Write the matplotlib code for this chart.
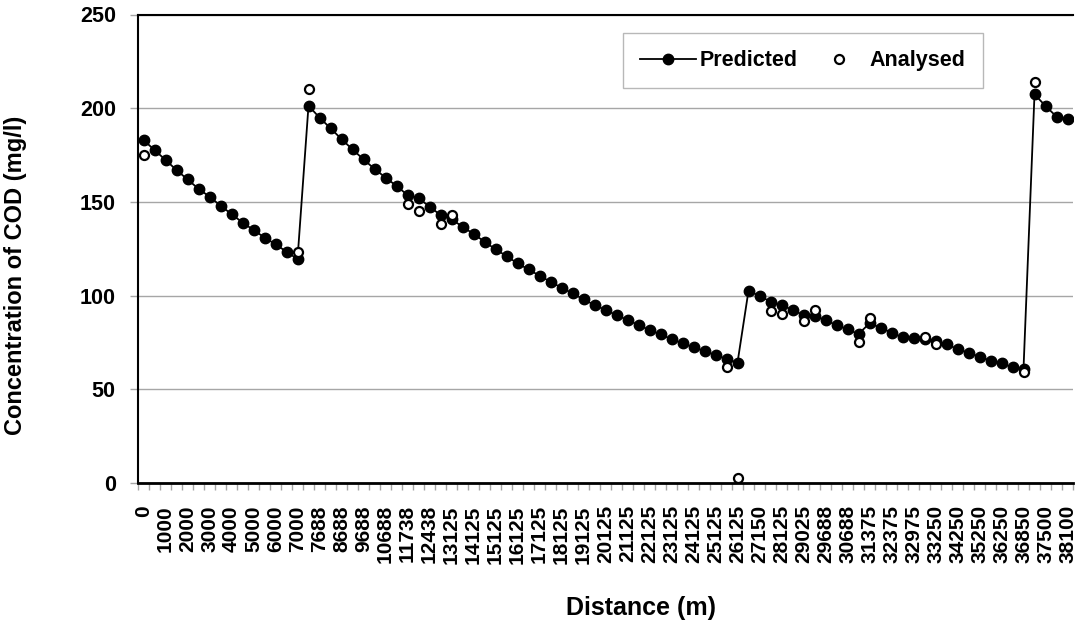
import numpy as np
import matplotlib as mpl
mpl.use('Agg')
import matplotlib.pyplot as plt

plt.rcParams['font.family'] = ['Liberation Sans', 'DejaVu Sans']
plt.rcParams['font.weight'] = 'bold'

# labelled distances (every second category on the axis)
distance_labels = ['0', '1000', '2000', '3000', '4000', '5000', '6000', '7000',
                   '7688', '8688', '9688', '10688', '11738', '12438', '13125',
                   '14125', '15125', '16125', '17125', '18125', '19125', '20125',
                   '21125', '22125', '23125', '24125', '25125', '26125', '27150',
                   '28125', '29025', '29688', '30688', '31375', '32375', '32975',
                   '33250', '34250', '35250', '36250', '36850', '37500', '38100']

predicted = [183, 177.7, 172.4, 167, 162, 157, 152.8, 148, 143.5, 139, 135, 131, 127.4, 123.4, 119.5,
             201.3, 195, 189.3, 183.5, 178, 172.7, 167.6, 163, 158.5, 153.7, 152, 147.5, 143, 140.7, 136.8, 132.9,
             128.8, 124.7, 121.1, 117.2, 114, 110.6, 107.4, 104.2, 101.2, 98, 95, 92.3, 89.6, 87, 84.3, 81.6, 79.3, 76.8,
             74.5, 72.4, 70.4, 68.3, 66.2, 64.2,
             102.6, 99.8, 96.8, 95, 92.3, 89.6, 89.3, 86.8, 84.3, 82, 79.5, 85.2, 82.9, 80.2, 77.7, 77.5, 76.7, 75.9, 74,
             71.5, 69.5, 67.4, 65.3, 63.9, 61.7, 60.8, 207.4, 201.2, 195.5, 194]

# analysed samples: category index -> value
analysed_idx = [0, 14, 15, 24, 25, 27, 28, 53, 54, 57, 58, 60, 61, 65, 66, 71, 72, 80, 81]
analysed_val = [175, 123, 210, 149, 145, 138, 143, 62, 2.5, 92, 90, 86.3, 92.2, 75, 88.2, 78, 74, 59.4, 214]

n = len(predicted)
x = np.arange(n)

fig = plt.figure(figsize=(10.77, 6.25), dpi=100)
ax = fig.add_axes([138/1077, 1-483/625, 935/1077, 468.5/625])

ax.plot(x, predicted, '-', color='black', lw=1.3, marker='o', markersize=7.5,
        markerfacecolor='black', markeredgecolor='black', label='Predicted', zorder=3)
ax.plot(analysed_idx, analysed_val, 'o', markersize=6.5, markerfacecolor='white',
        markeredgecolor='black', markeredgewidth=1.6, label='Analysed', zorder=4)

ax.set_xlim(-0.5, n-0.5)
ax.set_ylim(0, 250)
ax.set_yticks(np.arange(0, 251, 50))
ax.yaxis.grid(True, color='#a6a6a6', lw=1)
ax.set_axisbelow(True)

ax.set_xticks(np.arange(0, n, 2))
ax.set_xticklabels(distance_labels, rotation=90, fontsize=15, fontweight='bold')
ax.set_xticks(np.arange(-0.5, n, 1), minor=True)
ax.tick_params(axis='x', which='major', length=0, pad=16)
ax.tick_params(axis='x', which='minor', length=5, color='#a6a6a6', width=1)
ax.tick_params(axis='y', length=6, color='#a6a6a6', width=1, labelsize=15.5, pad=10)
for lab in ax.get_yticklabels():
    lab.set_fontweight('bold')

ax.spines['right'].set_visible(False)
ax.spines['left'].set_linewidth(1.5)
ax.spines['bottom'].set_linewidth(2)
ax.spines['top'].set_linewidth(1.5)

ax.set_xlabel('Distance (m)', fontsize=18, fontweight='bold')
ax.xaxis.set_label_coords(0.538, -0.241)
ax.set_ylabel('Concentration of COD (mg/l)', fontsize=17, fontweight='bold')
ax.yaxis.set_label_coords(-0.119, 0.444)

leg = ax.legend(loc='upper left', bbox_to_anchor=(0.519, 0.9605), ncol=2, fancybox=False,
                edgecolor='#a6a6a6', handlelength=2.6, handletextpad=0.15, columnspacing=0.6,
                borderpad=0.8, borderaxespad=0, prop={'weight': 'bold', 'size': 15.5})
leg.get_frame().set_linewidth(1)

fig.savefig('out.png', dpi=100)
